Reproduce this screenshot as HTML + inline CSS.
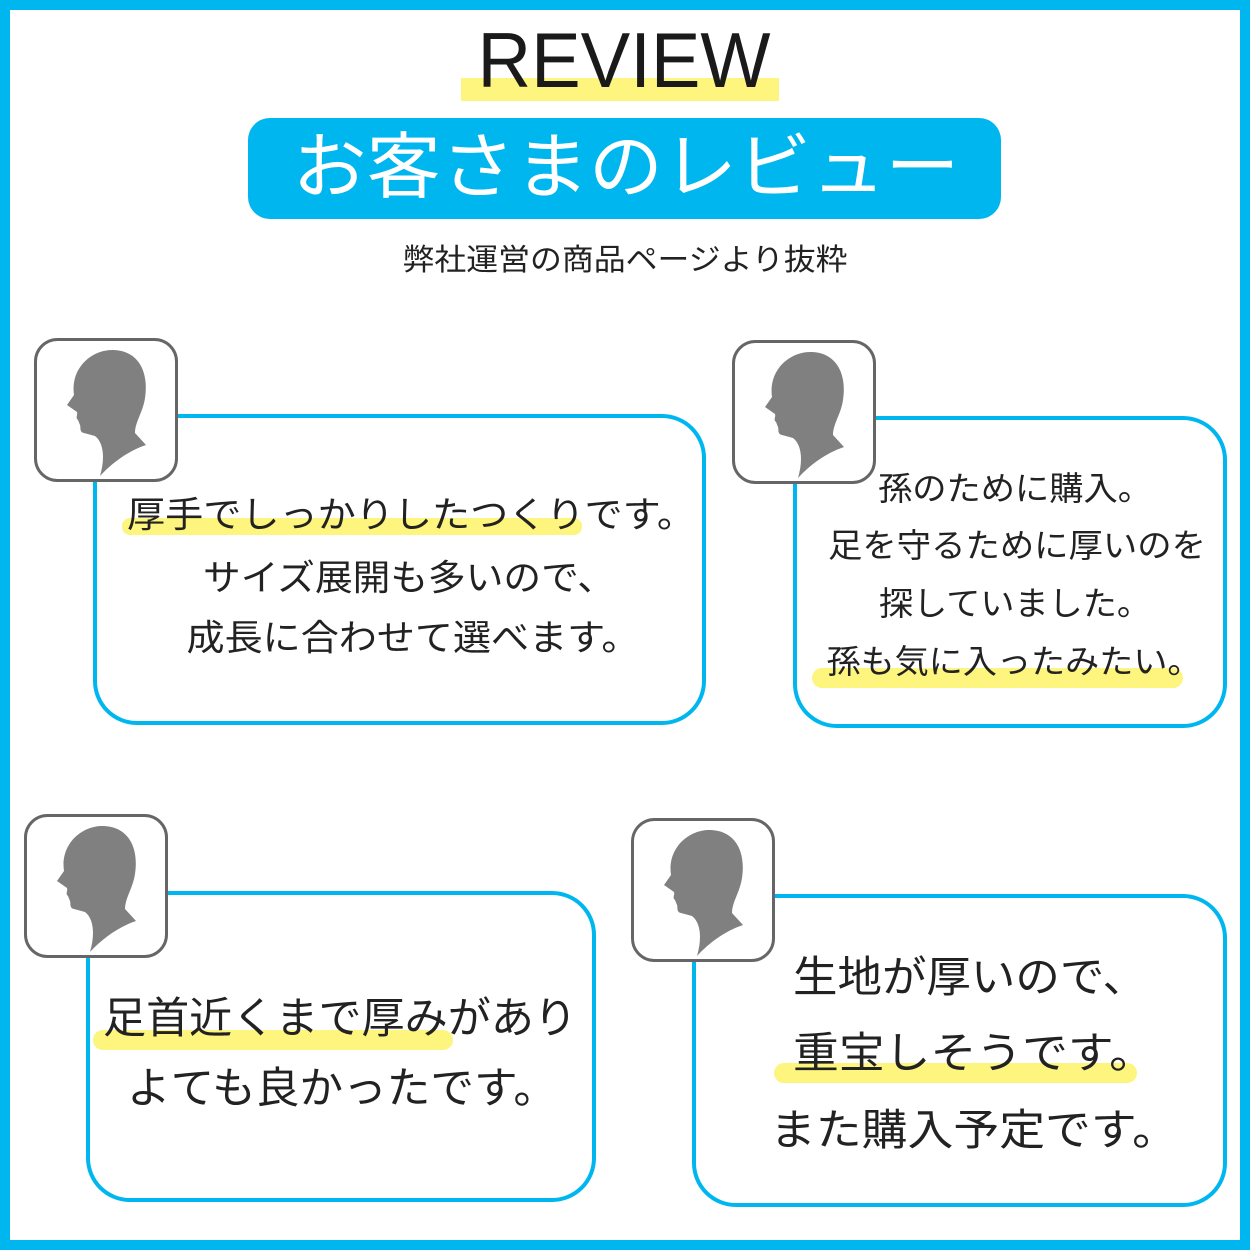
<!DOCTYPE html>
<html><head><meta charset="utf-8"><style>
html,body{margin:0;padding:0;background:#fff;}
svg{display:block;}
text{font-family:"Liberation Sans","Noto Sans CJK JP",sans-serif;}
</style></head><body>
<svg width="1250" height="1250" viewBox="0 0 1250 1250" xmlns="http://www.w3.org/2000/svg">
<defs>
<g id="av">
<rect x="1.5" y="1.5" width="141" height="141" rx="22" fill="#fff" stroke="#666" stroke-width="3"/>
<path d="M40 57 C36 30 58 11 80 12 C104 13 115 33 111 60 C109 74 101 84 101 95 L112 107 C94 113 78 125 66 138 C71 121 70 105 61 98 L50 95 C45 94 47 89 46 87 L44 82 C41 80 44 77 43 74 L33 67 L40 57 Z" fill="#808080"/>
</g>
</defs>
<rect x="5" y="5" width="1240" height="1240" fill="#fff" stroke="#00b6ef" stroke-width="10"/>
<rect x="461" y="78" width="318" height="23" fill="#fdf57e"/>
<text x="624" y="87" font-size="78" text-anchor="middle" textLength="293" lengthAdjust="spacingAndGlyphs" fill="#1a1a1a">REVIEW</text>
<rect x="248" y="118" width="753" height="101" rx="22" fill="#00b6ef"/>
<text x="626" y="192" font-size="72" text-anchor="middle" textLength="667" lengthAdjust="spacingAndGlyphs" fill="#fff">お客さまのレビュー</text>
<text x="625" y="270" font-size="30" text-anchor="middle" textLength="445" lengthAdjust="spacingAndGlyphs" fill="#222">弊社運営の商品ページより抜粋</text>

<!-- box1 -->
<rect x="95" y="416" width="609" height="307" rx="42" fill="#fff" stroke="#00b6ef" stroke-width="4"/>
<rect x="122" y="518" width="460" height="17" rx="8" fill="#fdf57e"/>
<g font-size="36" fill="#222" text-anchor="middle">
<text x="411" y="527" textLength="568" lengthAdjust="spacingAndGlyphs">厚手でしっかりしたつくりです。</text>
<text x="409" y="590" textLength="412" lengthAdjust="spacingAndGlyphs">サイズ展開も多いので、</text>
<text x="413" y="650" textLength="453" lengthAdjust="spacingAndGlyphs">成長に合わせて選べます。</text>
</g>
<use href="#av" x="34" y="338"/>

<!-- box2 -->
<rect x="795" y="418" width="430" height="308" rx="42" fill="#fff" stroke="#00b6ef" stroke-width="4"/>
<rect x="812" y="668" width="371" height="20" rx="10" fill="#fdf57e"/>
<g font-size="33" fill="#222" text-anchor="middle">
<text x="1015" y="500" textLength="274" lengthAdjust="spacingAndGlyphs">孫のために購入。</text>
<text x="1017" y="557" textLength="378" lengthAdjust="spacingAndGlyphs">足を守るために厚いのを</text>
<text x="1015" y="615" textLength="272" lengthAdjust="spacingAndGlyphs">探していました。</text>
<text x="1014" y="673" textLength="375" lengthAdjust="spacingAndGlyphs">孫も気に入ったみたい。</text>
</g>
<use href="#av" x="732" y="340"/>

<!-- box3 -->
<rect x="88" y="893" width="506" height="307" rx="42" fill="#fff" stroke="#00b6ef" stroke-width="4"/>
<rect x="93" y="1030" width="360" height="20" rx="10" fill="#fdf57e"/>
<g font-size="43" fill="#222" text-anchor="middle">
<text x="340" y="1033" textLength="474" lengthAdjust="spacingAndGlyphs">足首近くまで厚みがあり</text>
<text x="342" y="1103" textLength="430" lengthAdjust="spacingAndGlyphs">よても良かったです。</text>
</g>
<use href="#av" x="24" y="814"/>

<!-- box4 -->
<rect x="694" y="896" width="531" height="309" rx="42" fill="#fff" stroke="#00b6ef" stroke-width="4"/>
<rect x="774" y="1063" width="363" height="20" rx="10" fill="#fdf57e"/>
<g font-size="43" fill="#222" text-anchor="middle">
<text x="970" y="992" textLength="354" lengthAdjust="spacingAndGlyphs">生地が厚いので、</text>
<text x="974" y="1068" textLength="362" lengthAdjust="spacingAndGlyphs">重宝しそうです。</text>
<text x="974" y="1145" textLength="408" lengthAdjust="spacingAndGlyphs">また購入予定です。</text>
</g>
<use href="#av" x="631" y="818"/>
</svg>
</body></html>
